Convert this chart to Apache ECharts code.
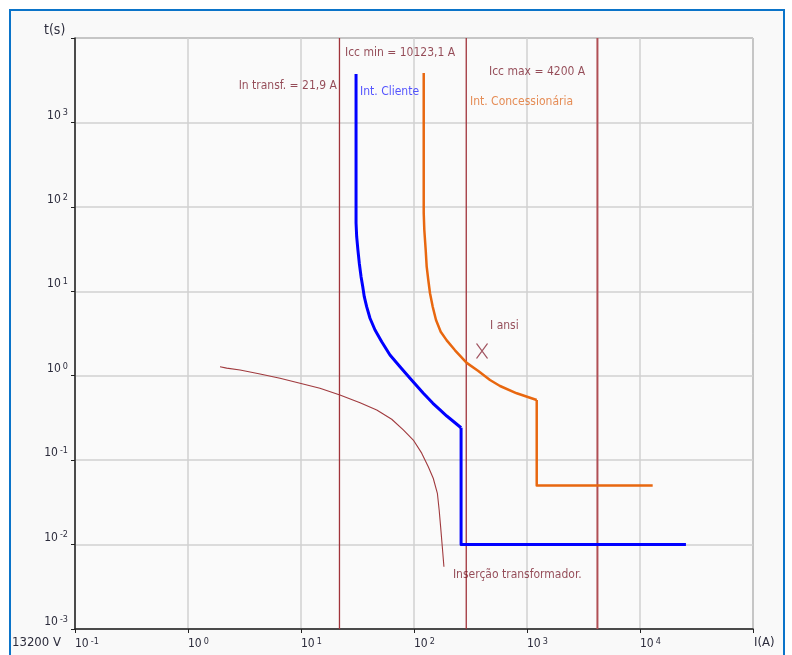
<!DOCTYPE html>
<html>
<head>
<meta charset="utf-8">
<script src="https://cdn.jsdelivr.net/npm/echarts@6/dist/echarts.min.js"></script>
<style>
html,body{margin:0;padding:0;background:#ffffff;}
#chart{width:792px;height:655px;}
</style>
</head>
<body>
<div id="chart"></div>
<script>
// ---- Data (current in A, time in s) ----
// Int. Cliente: inverse-time curve, then instantaneous step
const clienteCurveI = [30.7, 30.7, 31.1, 31.9, 32.8, 34.0, 35.2, 36.3, 38.1, 40.8, 45.2, 51.8, 61.3, 75.2, 92.2, 121, 147, 170, 195, 261];
const clienteCurveT = [3750, 64.4, 44.3, 30.8, 21.5, 14.9, 11.3, 8.63, 6.57, 4.79, 3.48, 2.53, 1.76, 1.28, 0.932, 0.619, 0.471, 0.393, 0.333, 0.242];
const clienteStepI = [261, 261, 25500];
const clienteStepT = [0.242, 0.01, 0.01];

// Int. Concessionária
const concCurveI = [121.9, 121.9, 123.4, 126.9, 129.5, 133.8, 138.6, 146.4, 156.6, 172.3, 194.8, 230.7, 292.7, 370.7, 470.5, 577, 811, 1219];
const concCurveT = [3850, 84.6, 53.2, 30.8, 19.6, 13.6, 9.47, 6.57, 4.57, 3.32, 2.62, 2.00, 1.42, 1.14, 0.890, 0.755, 0.619, 0.516];
const concStepI = [1219, 1219, 12950];
const concStepT = [0.516, 0.05, 0.05];

// Inserção transformador
const insercaoI = [1.92, 2.20, 2.89, 4.34, 6.52, 9.80, 14.7, 22.1, 33.3, 46.8, 63.5, 80.4, 98.6, 117, 133.8, 148, 161, 167, 172, 178, 184];
const insercaoT = [1.28, 1.23, 1.17, 1.05, 0.932, 0.813, 0.710, 0.591, 0.479, 0.393, 0.305, 0.228, 0.173, 0.121, 0.0836, 0.0610, 0.0405, 0.0257, 0.0163, 0.00944, 0.00547];

const vLineNames = ['In transf.', 'Icc min', 'Icc max'];
const vLineI = [21.9, 290, 4200];

const ansiI = [400];
const ansiT = [1.96];

const annoText = ['In transf. = 21,9 A', 'Icc min = 10123,1 A', 'Int. Cliente', 'Icc max = 4200 A', 'Int. Concessionária', 'I ansi', 'Inserção transformador.'];
const annoI = [20.8, 24.5, 33.3, 461, 313, 471, 221];
const annoT = [2700, 6640, 2291, 3954, 1746, 3.88, 0.00436];

const xMin = 0.1, xMax = 100000;
const yMin = 0.001, yMax = 10000;

// ---- Styles ----
const FONT = "'DejaVu Sans Condensed', 'DejaVu Sans', sans-serif";
const labelBrown = '#7a1f2e';
const annoColors = [labelBrown, labelBrown, '#2b2bff', labelBrown, '#e0702c', labelBrown, labelBrown];
const annoSide = ['left', 'right', 'right', 'right', 'right', 'right', 'right'];
const vLineStyles = [
  {color: '#a0333a', width: 1.3},
  {color: '#a0333a', width: 1.3},
  {color: '#b04f55', width: 2}
];

function zip(a, b) { return a.map((v, i) => [v, b[i]]); }

const chart = echarts.init(document.getElementById('chart'), null, {renderer: 'canvas'});

const expRich = {
  b: {fontSize: 12, fontFamily: FONT, color: '#2c2c3c', lineHeight: 14},
  s: {fontSize: 9, fontFamily: FONT, color: '#2c2c3c', verticalAlign: 'top', lineHeight: 14, padding: [0, 0, 0, 2]}
};

function expFormatter(hideExp) {
  return function (v) {
    const e = Math.round(Math.log10(v));
    if (e === hideExp) return '';
    return '{b|10}{s|' + e + '}';
  };
}

const series = [];

vLineI.forEach((x, i) => {
  series.push({
    name: vLineNames[i], type: 'line',
    data: [[x, yMin], [x, yMax]],
    symbol: 'none', lineStyle: vLineStyles[i], z: 2, silent: true
  });
});

series.push({
  name: 'Inserção transformador', type: 'line',
  data: zip(insercaoI, insercaoT),
  symbol: 'none',
  lineStyle: {color: '#a03a3e', width: 1.1}, z: 3
});

const blue = {color: '#0000ff', width: 3, join: 'round'};
series.push({name: 'Int. Cliente', type: 'line', data: zip(clienteCurveI, clienteCurveT),
  symbol: 'none', lineStyle: blue, z: 4});
series.push({name: 'Int. Cliente step', type: 'line', data: zip(clienteStepI, clienteStepT),
  symbol: 'none', lineStyle: blue, z: 4});

const orange = {color: '#e8670f', width: 2.5, join: 'round'};
series.push({name: 'Int. Concessionária', type: 'line', data: zip(concCurveI, concCurveT),
  symbol: 'none', lineStyle: orange, z: 4});
series.push({name: 'Int. Concessionária step', type: 'line', data: zip(concStepI, concStepT),
  symbol: 'none', lineStyle: orange, z: 4});

series.push({
  name: 'I ansi', type: 'scatter',
  data: zip(ansiI, ansiT),
  symbol: 'path://M0,0L10,14M10,0L0,14',
  symbolSize: [11, 15],
  itemStyle: {color: 'none', borderColor: '#8b2a3a', borderWidth: 1.3},
  z: 5
});

series.push({
  name: 'annotations', type: 'scatter', symbolSize: 0.01, z: 6,
  data: annoText.map((t, i) => ({
    value: [annoI[i], annoT[i]],
    label: {
      show: true, formatter: t,
      position: annoSide[i], distance: 0,
      color: annoColors[i], fontSize: 12, fontFamily: FONT
    }
  }))
});

chart.setOption({
  animation: false,
  backgroundColor: 'transparent',
  graphic: [
    {type: 'rect', z: -10, shape: {x: 10, y: 10, width: 774, height: 660},
     style: {fill: '#f9f9f9', stroke: '#0b74c9', lineWidth: 2}},
    {type: 'text', z: 10, left: 44, top: 23, style: {text: 't(s)', font: '14px ' + FONT, fill: '#2c2c3c'}},
    {type: 'text', z: 10, left: 12, top: 636, style: {text: '13200 V', font: '13px ' + FONT, fill: '#2c2c3c'}},
    {type: 'text', z: 10, left: 754, top: 636, style: {text: 'I(A)', font: '13px ' + FONT, fill: '#2c2c3c'}}
  ],
  grid: {
    left: 75, top: 38, width: 678, height: 591,
    show: true, backgroundColor: '#fafafa', borderColor: '#555', borderWidth: 1,
    containLabel: false
  },
  xAxis: {
    type: 'log', logBase: 10, min: xMin, max: xMax, splitNumber: 6,
    axisLine: {show: true, lineStyle: {color: '#222', width: 1.5}},
    axisTick: {show: true, length: 4, lineStyle: {color: '#222'}},
    splitLine: {show: true, lineStyle: {color: '#d0d0d0', width: 1.5}},
    minorTick: {show: false}, minorSplitLine: {show: false},
    axisLabel: {show: true, showMinLabel: true, showMaxLabel: true, align: 'left', margin: 8,
      formatter: expFormatter(5), rich: expRich}
  },
  yAxis: {
    type: 'log', logBase: 10, min: yMin, max: yMax, splitNumber: 7,
    axisLine: {show: true, lineStyle: {color: '#222', width: 1.5}},
    axisTick: {show: true, length: 4, lineStyle: {color: '#222'}},
    splitLine: {show: true, lineStyle: {color: '#d0d0d0', width: 1.5}},
    minorTick: {show: false}, minorSplitLine: {show: false},
    axisLabel: {show: true, showMinLabel: true, showMaxLabel: true, margin: 7, verticalAlign: 'bottom',
      formatter: expFormatter(4), rich: expRich}
  },
  tooltip: {show: false},
  legend: {show: false},
  series: series
});
</script>
</body>
</html>
